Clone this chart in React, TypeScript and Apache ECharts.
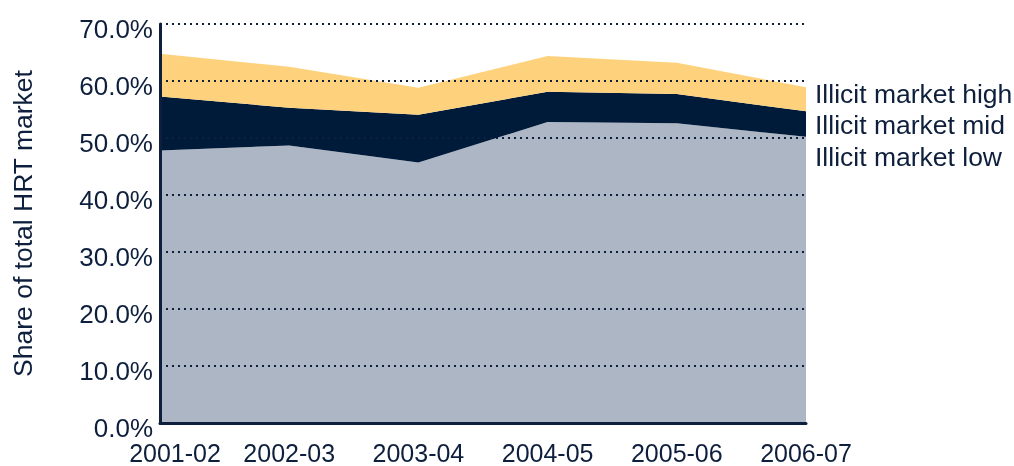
import React, { useEffect, useRef } from "react";
import * as echarts from "echarts";

const categories = ["2001-02", "2002-03", "2003-04", "2004-05", "2005-06", "2006-07"];
// stacked increments (percentage points)
const lowValues = [47.8, 48.7, 45.7, 52.8, 52.6, 50.2];
const midValues = [9.5, 6.6, 8.4, 5.3, 5.1, 4.5];
const highValues = [7.5, 7.2, 4.7, 6.3, 5.5, 4.2];
const seriesNames = ["Illicit market low", "Illicit market mid", "Illicit market high"];
const yAxisTitle = "Share of total HRT market";

const TEXT = "#0d1f3c";
const FONT = "Liberation Sans, Arial, sans-serif";

export default function App() {
  const ref = useRef<HTMLDivElement>(null);
  useEffect(() => {
    if (!ref.current) return;
    const chart = echarts.init(ref.current, undefined, { renderer: "svg" });
    const colors = ["#adb6c4", "#001b3a", "#fed27c"];
    const data = [lowValues, midValues, highValues];
    const xLabelStyle = { color: TEXT, fontSize: 25, fontFamily: FONT };
    chart.setOption({
      animation: false,
      textStyle: { fontFamily: FONT, color: TEXT },
      grid: { left: 160, right: 208, top: 24, bottom: 43 },
      xAxis: {
        type: "category",
        data: categories,
        boundaryGap: false,
        axisLine: { lineStyle: { color: "#0d1f3c", width: 3 } },
        axisTick: { show: false },
        axisLabel: {
          margin: 17,
          formatter: (v: string, i: number) => (i === 0 ? "{f|" + v + "}" : "{n|" + v + "}"),
          rich: {
            f: { ...xLabelStyle, padding: [0, 0, 0, 30] },
            n: { ...xLabelStyle },
          },
        },
        z: 5,
      },
      yAxis: {
        type: "value",
        min: 0,
        max: 70,
        interval: 10,
        name: yAxisTitle,
        nameLocation: "middle",
        nameGap: 124,
        nameTextStyle: { color: TEXT, fontSize: 26.5, fontFamily: FONT },
        axisLine: { show: true, lineStyle: { color: "#0d1f3c", width: 3 } },
        axisTick: { show: false },
        axisLabel: {
          margin: 7,
          formatter: (v: number) => "{a|" + v.toFixed(1) + "%}",
          rich: {
            a: {
              color: TEXT,
              fontSize: 26,
              fontFamily: FONT,
              lineHeight: 26,
              padding: [9, 0, 0, 0],
            },
          },
        },
        splitLine: {
          show: true,
          lineStyle: { color: "#0d1f3c", type: [2, 4], width: 2 },
        },
        z: 5,
      },
      series: data.map((d, i) => ({
        name: seriesNames[i],
        type: "line",
        stack: "total",
        data: d,
        symbol: "none",
        lineStyle: { width: 0 },
        areaStyle: { color: colors[i], opacity: 1 },
        z: 2,
      })),
      graphic: [2, 1, 0].map((idx, k) => ({
        type: "text",
        left: 815,
        top: 80 + k * 31.5,
        style: {
          text: seriesNames[idx],
          fill: TEXT,
          font: `26.5px ${FONT}`,
        },
      })),
    });
    return () => chart.dispose();
  }, []);
  return (
    <div
      ref={ref}
      style={{ width: 1014, height: 466, position: "fixed", left: 0, top: 0 }}
    />
  );
}
